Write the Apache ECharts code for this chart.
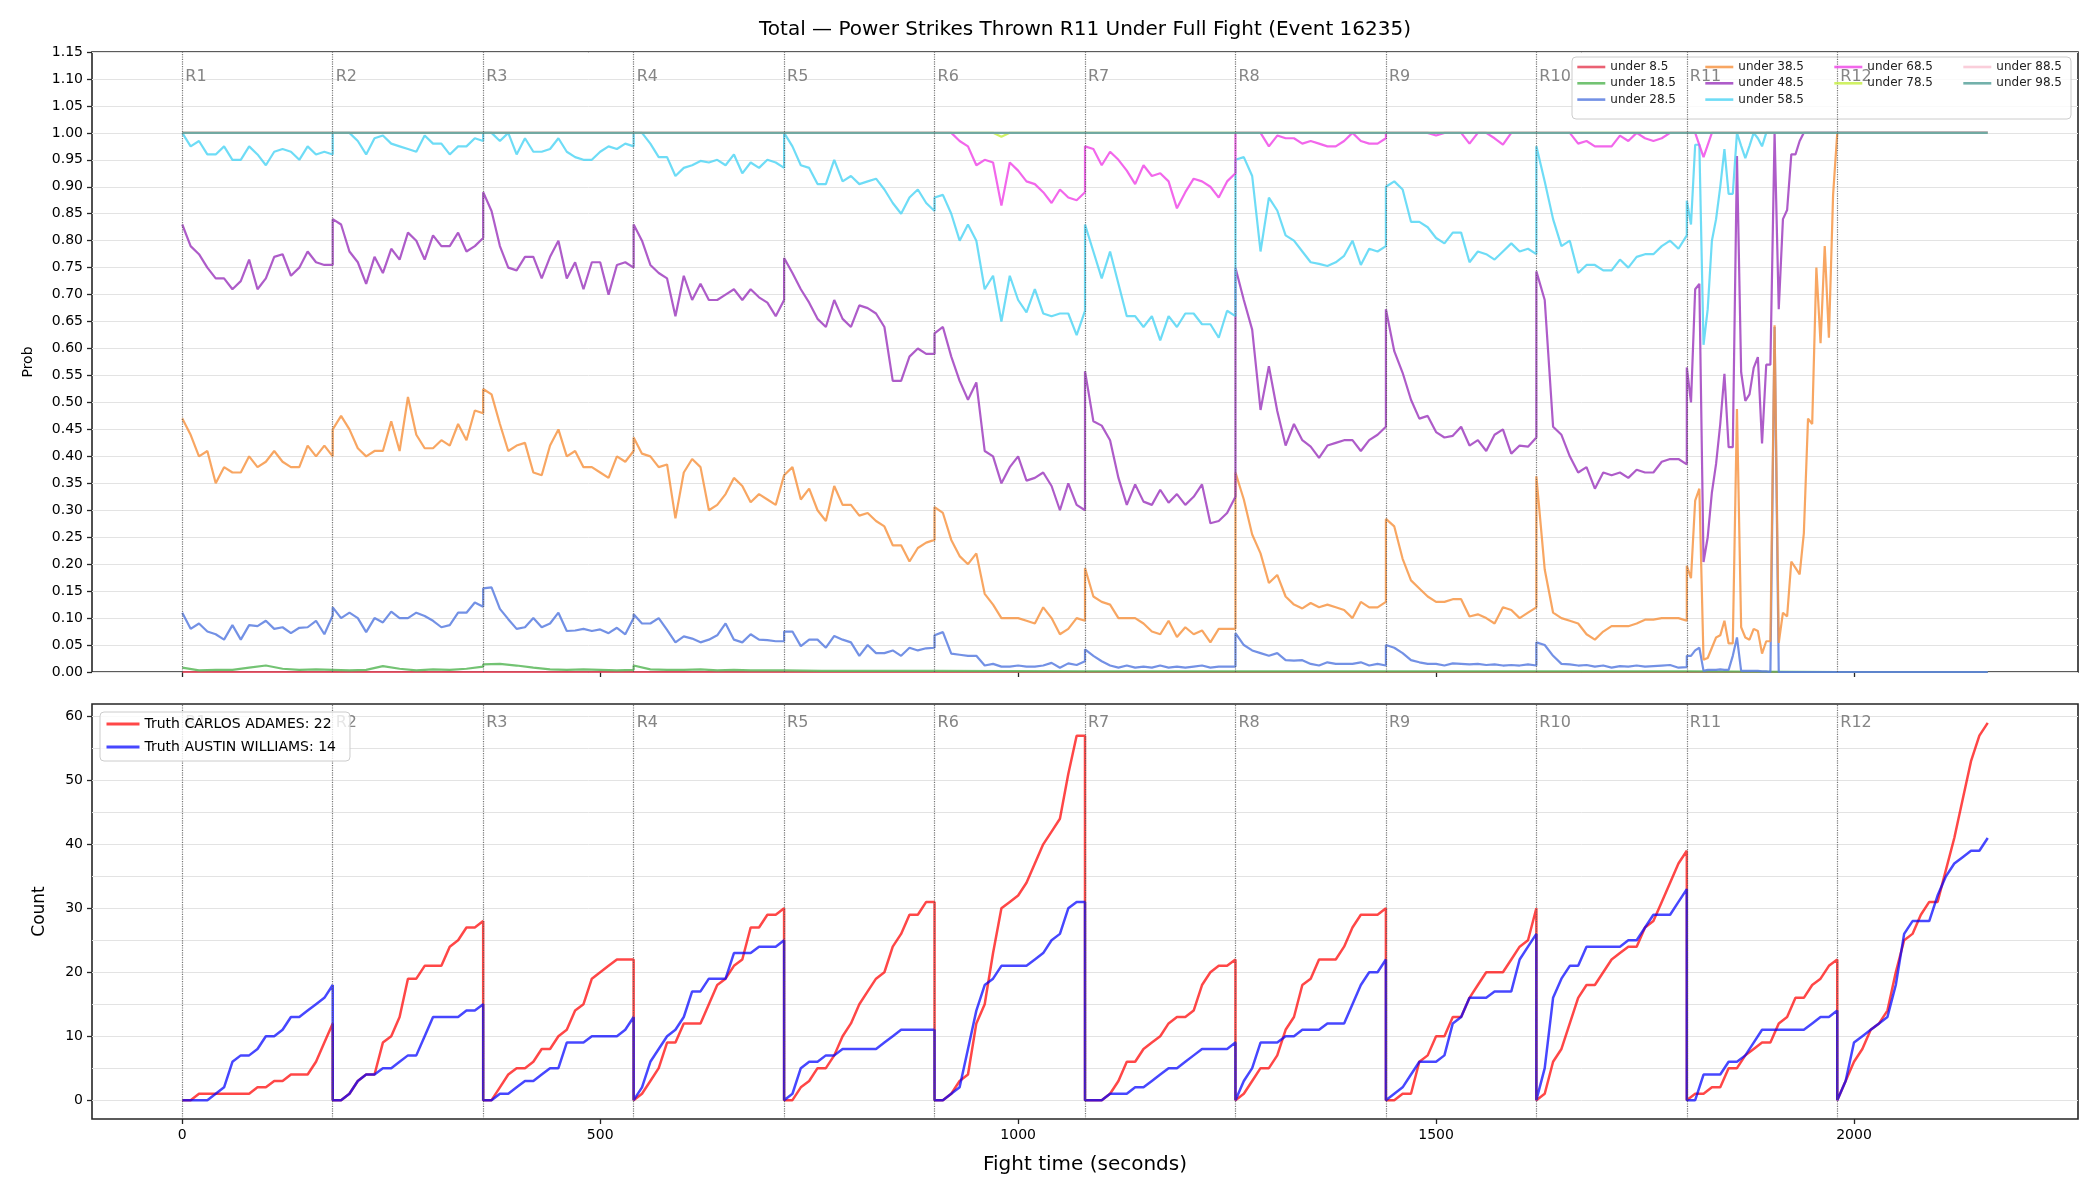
<!DOCTYPE html>
<html>
<head>
<meta charset="utf-8">
<title>Power Strikes Thrown R11 Under</title>
<script src="https://cdn.jsdelivr.net/npm/echarts@6/dist/echarts.min.js"></script>
<style>
  html, body { margin: 0; padding: 0; background: #fff; }
  #chart { width: 2100px; height: 1200px; }
</style>
</head>
<body>
<div id="chart"></div>
<script>
// rounds (seconds)
const ROUND_LEN = 180;
const roundNames = ['R1', 'R2', 'R3', 'R4', 'R5', 'R6', 'R7', 'R8', 'R9', 'R10', 'R11', 'R12'];
const roundStarts = [0, 180, 360, 540, 720, 900, 1080, 1260, 1440, 1620, 1800, 1980];
const xTicks = [0, 500, 1000, 1500, 2000];
const countTicks = [0, 10, 20, 30, 40, 50, 60];
const countMinorGrid = [5, 15, 25, 35, 45, 55];

const probNames = ['under 8.5', 'under 18.5', 'under 28.5', 'under 38.5', 'under 48.5',
  'under 58.5', 'under 68.5', 'under 78.5', 'under 88.5', 'under 98.5'];

// each series: one array per round, values evenly spread over the round
const u8 = [[0,0],[0,0],[0,0],[0,0],[0,0],[0,0],[0,0],[0,0],[0,0],[0,0],[0,0],[0,0]];
const u18 = [
  [0.008,0.003,0.004,0.004,0.008,0.012,0.006,0.004,0.005,0.004],
  [0.004,0.003,0.004,0.011,0.006,0.003,0.005,0.004,0.006,0.01],
  [0.014,0.015,0.012,0.008,0.005,0.004,0.005,0.004,0.003,0.004],
  [0.012,0.005,0.004,0.004,0.005,0.003,0.004,0.003,0.003,0.003],
  [0.003,0.002,0.002,0.002,0.002],
  [0.001,0.001],[0.001,0.001],[0.001,0.001],[0.001,0.001],[0.001,0.001],
  [0,0],[0,0]
];
const u28 = [
  [0.11,0.08,0.09,0.075,0.07,0.06,0.087,0.06,0.087,0.085,0.095,0.08,0.083,0.072,0.082,0.083,0.095,0.07,0.105],
  [0.12,0.10,0.11,0.10,0.074,0.10,0.092,0.112,0.10,0.10,0.11,0.104,0.095,0.083,0.087,0.11,0.11,0.129,0.121],
  [0.155,0.157,0.117,0.098,0.08,0.083,0.10,0.083,0.09,0.11,0.076,0.077,0.08,0.076,0.079,0.072,0.082,0.07,0.10],
  [0.107,0.09,0.09,0.10,0.078,0.055,0.066,0.062,0.055,0.06,0.068,0.09,0.06,0.055,0.07,0.06,0.059,0.057,0.057],
  [0.075,0.075,0.048,0.06,0.06,0.045,0.067,0.06,0.055,0.03,0.05,0.035,0.035,0.04,0.03,0.045,0.04,0.044,0.045],
  [0.068,0.074,0.034,0.032,0.03,0.03,0.012,0.015,0.01,0.01,0.012,0.01,0.01,0.012,0.017,0.008,0.016,0.013,0.02],
  [0.042,0.03,0.02,0.012,0.008,0.012,0.008,0.01,0.008,0.012,0.008,0.01,0.008,0.01,0.012,0.008,0.01,0.01,0.01],
  [0.072,0.05,0.04,0.035,0.03,0.035,0.022,0.021,0.022,0.015,0.012,0.018,0.015,0.015,0.015,0.018,0.012,0.015,0.012],
  [0.05,0.045,0.035,0.022,0.018,0.015,0.015,0.012,0.016,0.015,0.014,0.015,0.013,0.014,0.012,0.013,0.012,0.014,0.012],
  [0.055,0.05,0.03,0.015,0.014,0.012,0.013,0.01,0.012,0.008,0.011,0.01,0.012,0.01,0.011,0.012,0.013,0.008,0.009],
  [0.03,0.03,0.04,0.045,0.002,0.004,0.004,0.004,0.005,0.004,0.004,0.03,0.064,0.002,0.002,0.002,0.002,0.002,0.001,0.001,
   0,0.64,0,0,0,0,0,0,0,0,0,0,0,0,0,0,0],
  [0,0]
];
const u38 = [
  [0.47,0.44,0.40,0.41,0.35,0.38,0.37,0.37,0.40,0.38,0.39,0.41,0.39,0.38,0.38,0.42,0.40,0.42,0.40],
  [0.45,0.475,0.45,0.415,0.40,0.41,0.41,0.465,0.41,0.51,0.44,0.415,0.415,0.43,0.42,0.46,0.43,0.485,0.48],
  [0.525,0.515,0.46,0.41,0.42,0.425,0.37,0.365,0.42,0.45,0.40,0.41,0.38,0.38,0.37,0.36,0.40,0.39,0.41],
  [0.435,0.405,0.40,0.38,0.385,0.285,0.37,0.395,0.38,0.30,0.31,0.33,0.36,0.345,0.315,0.33,0.32,0.31,0.365],
  [0.365,0.38,0.32,0.34,0.30,0.28,0.345,0.31,0.31,0.29,0.295,0.28,0.27,0.235,0.235,0.205,0.23,0.24,0.245],
  [0.306,0.295,0.245,0.215,0.20,0.22,0.145,0.125,0.10,0.10,0.10,0.095,0.09,0.12,0.10,0.07,0.08,0.10,0.095],
  [0.193,0.14,0.13,0.125,0.10,0.10,0.10,0.09,0.075,0.07,0.095,0.065,0.083,0.07,0.077,0.055,0.08,0.08,0.08],
  [0.37,0.32,0.255,0.22,0.165,0.18,0.14,0.125,0.118,0.128,0.12,0.125,0.12,0.115,0.10,0.13,0.12,0.12,0.13],
  [0.284,0.27,0.21,0.17,0.155,0.14,0.13,0.13,0.135,0.135,0.103,0.107,0.10,0.09,0.12,0.115,0.10,0.11,0.12],
  [0.363,0.19,0.11,0.10,0.095,0.09,0.07,0.06,0.075,0.085,0.085,0.085,0.09,0.097,0.097,0.10,0.10,0.10,0.095],
  [0.197,0.174,0.318,0.34,0.023,0.026,0.045,0.064,0.068,0.095,0.053,0.053,0.488,0.083,0.064,0.06,0.08,0.076,0.034,0.057,
   0.057,0.643,0.054,0.11,0.103,0.205,0.193,0.181,0.257,0.47,0.46,0.75,0.61,0.79,0.62,0.885,1.0],
  [1,1]
];
const u48 = [
  [0.83,0.79,0.775,0.75,0.73,0.73,0.71,0.725,0.765,0.71,0.73,0.77,0.775,0.735,0.75,0.78,0.76,0.755,0.755],
  [0.84,0.83,0.78,0.76,0.72,0.77,0.74,0.785,0.765,0.815,0.80,0.765,0.81,0.79,0.79,0.815,0.78,0.79,0.805],
  [0.89,0.855,0.79,0.75,0.745,0.77,0.77,0.73,0.77,0.80,0.73,0.76,0.71,0.76,0.76,0.70,0.755,0.76,0.75],
  [0.83,0.80,0.755,0.74,0.73,0.66,0.735,0.69,0.72,0.69,0.69,0.70,0.71,0.69,0.71,0.695,0.685,0.66,0.69],
  [0.768,0.74,0.71,0.685,0.655,0.64,0.69,0.655,0.64,0.68,0.675,0.665,0.64,0.54,0.54,0.585,0.60,0.59,0.59],
  [0.628,0.64,0.585,0.54,0.505,0.537,0.41,0.40,0.35,0.38,0.40,0.355,0.36,0.37,0.345,0.30,0.35,0.31,0.30],
  [0.558,0.465,0.457,0.43,0.36,0.31,0.348,0.316,0.31,0.338,0.314,0.33,0.31,0.325,0.348,0.276,0.28,0.295,0.325],
  [0.75,0.69,0.635,0.486,0.567,0.484,0.42,0.46,0.43,0.418,0.397,0.42,0.425,0.43,0.43,0.41,0.43,0.44,0.455],
  [0.673,0.595,0.555,0.505,0.47,0.475,0.445,0.435,0.438,0.455,0.42,0.43,0.41,0.44,0.45,0.405,0.42,0.418,0.435],
  [0.743,0.69,0.455,0.44,0.40,0.37,0.38,0.34,0.37,0.365,0.37,0.36,0.375,0.37,0.37,0.39,0.395,0.395,0.385],
  [0.565,0.50,0.71,0.72,0.204,0.25,0.333,0.386,0.46,0.553,0.417,0.417,0.957,0.556,0.503,0.515,0.564,0.584,0.424,0.57,
   0.57,1.0,0.673,0.84,0.857,0.96,0.96,0.985,1,1,1,1,1,1,1,1,1],
  [1,1]
];
const u58 = [
  [1.0,0.975,0.985,0.96,0.96,0.975,0.95,0.95,0.975,0.96,0.94,0.965,0.97,0.965,0.95,0.975,0.96,0.965,0.96],
  [1.0,1.0,1.0,0.985,0.96,0.99,0.995,0.98,0.975,0.97,0.965,0.995,0.98,0.98,0.96,0.975,0.975,0.99,0.985],
  [1.0,1.0,0.985,1.0,0.96,0.99,0.965,0.965,0.97,0.99,0.965,0.955,0.95,0.95,0.965,0.975,0.97,0.98,0.975],
  [1.0,1.0,0.98,0.955,0.955,0.92,0.935,0.94,0.948,0.945,0.95,0.94,0.96,0.925,0.945,0.935,0.95,0.945,0.935],
  [1.0,0.975,0.94,0.935,0.905,0.905,0.95,0.91,0.92,0.905,0.91,0.915,0.895,0.87,0.85,0.88,0.895,0.87,0.855],
  [0.88,0.885,0.85,0.80,0.83,0.80,0.71,0.735,0.65,0.735,0.69,0.667,0.71,0.665,0.66,0.665,0.665,0.625,0.67],
  [0.83,0.78,0.73,0.78,0.72,0.66,0.66,0.64,0.66,0.615,0.66,0.64,0.665,0.665,0.645,0.645,0.62,0.67,0.66],
  [0.95,0.955,0.92,0.78,0.88,0.856,0.81,0.80,0.78,0.76,0.757,0.753,0.76,0.772,0.80,0.755,0.785,0.78,0.79],
  [0.90,0.91,0.895,0.835,0.835,0.825,0.805,0.795,0.815,0.815,0.76,0.78,0.775,0.765,0.78,0.795,0.78,0.785,0.775],
  [0.975,0.91,0.84,0.79,0.80,0.74,0.755,0.755,0.745,0.745,0.765,0.75,0.77,0.775,0.775,0.79,0.80,0.785,0.81],
  [0.874,0.83,0.978,0.978,0.607,0.673,0.80,0.84,0.90,0.97,0.887,0.887,1.0,0.976,0.953,0.976,1.0,0.99,0.975,1.0,
   1,1,1,1,1,1,1,1,1,1,1,1,1,1,1,1,1],
  [1,1]
];
const u68 = [
  [1,1],[1,1],[1,1],[1,1],[1,1],
  [1.0,1.0,1.0,0.985,0.975,0.94,0.95,0.945,0.865,0.945,0.93,0.91,0.905,0.89,0.87,0.895,0.88,0.875,0.89],
  [0.975,0.97,0.94,0.965,0.95,0.93,0.905,0.94,0.92,0.925,0.91,0.86,0.89,0.915,0.91,0.90,0.88,0.91,0.925],
  [1.0,1.0,1.0,1.0,0.975,0.995,0.99,0.99,0.98,0.985,0.98,0.975,0.975,0.985,1.0,0.985,0.98,0.98,0.99],
  [1,1,1,1,1,1,0.995,1,1,1,0.98,1,1,0.99,0.978,1,1,1,1],
  [1,1,1,1,1,0.98,0.985,0.975,0.975,0.975,0.995,0.985,1,0.99,0.985,0.99,1,1,1],
  [1,1,0.955,1,1,1,1,1,1,1,1,1,1,1,1,1,1,1,1],
  [1,1]
];
const u78 = [
  [1,1],[1,1],[1,1],[1,1],[1,1],
  [1,1,1,1,1,1,1,1,0.993,1,1,1,1,1,1,1,1,1,1],
  [1,1],[1,1],[1,1],[1,1],[1,1],[1,1]
];
const u88 = [[1,1],[1,1],[1,1],[1,1],[1,1],[1,1],[1,1],[1,1],[1,1],[1,1],[1,1],[1,1]];
const u98 = [[1,1],[1,1],[1,1],[1,1],[1,1],[1,1],[1,1],[1,1],[1,1],[1,1],[1,1],[1,1]];

// cumulative counts, every 10 s within each round
const redName = 'Truth CARLOS ADAMES: 22';
const blueName = 'Truth AUSTIN WILLIAMS: 14';
const redCounts = [
  [0,0,1,1,1,1,1,1,1,2,2,3,3,4,4,4,6,9,12],
  [0,0,1,3,4,4,9,10,13,19,19,21,21,21,24,25,27,27,28],
  [0,0,2,4,5,5,6,8,8,10,11,14,15,19,20,21,22,22,22],
  [0,1,3,5,9,9,12,12,12,15,18,19,21,22,27,27,29,29,30],
  [0,0,2,3,5,5,7,10,12,15,17,19,20,24,26,29,29,31,31],
  [0,0,1,3,4,12,15,23,30,31,32,34,37,40,42,44,51,57,57],
  [0,0,0,1,3,6,6,8,9,10,12,13,13,14,18,20,21,21,22],
  [0,1,3,5,5,7,11,13,18,19,22,22,22,24,27,29,29,29,30],
  [0,0,1,1,6,7,10,10,13,13,16,18,20,20,20,22,24,25,30],
  [0,1,6,8,12,16,18,18,20,22,23,24,24,27,28,31,34,37,39],
  [0,1,1,2,2,5,5,7,8,9,9,12,13,16,16,18,19,21,22],
  [0,3,6,8,11,12,14,20,25,26,29,31,31,36,41,47,53,57,59]
];
const blueCounts = [
  [0,0,0,0,1,2,6,7,7,8,10,10,11,13,13,14,15,16,18],
  [0,0,1,3,4,4,5,5,6,7,7,10,13,13,13,13,14,14,15],
  [0,0,1,1,2,3,3,4,5,5,9,9,9,10,10,10,10,11,13],
  [0,2,6,8,10,11,13,17,17,19,19,19,23,23,23,24,24,24,25],
  [0,1,5,6,6,7,7,8,8,8,8,8,9,10,11,11,11,11,11],
  [0,0,1,2,8,14,18,19,21,21,21,21,22,23,25,26,30,31,31],
  [0,0,0,1,1,1,2,2,3,4,5,5,6,7,8,8,8,8,9],
  [0,3,5,9,9,9,10,10,11,11,11,12,12,12,15,18,20,20,22],
  [0,1,2,4,6,6,6,7,12,13,16,16,16,17,17,17,22,24,26],
  [0,5,16,19,21,21,24,24,24,24,24,25,25,27,29,29,29,31,33],
  [0,0,4,4,4,6,6,7,9,11,11,11,11,11,11,12,13,13,14],
  [0,3,9,10,11,12,13,18,26,28,28,28,32,35,37,38,39,39,41]
];

const probRounds = [u8, u18, u28, u38, u48, u58, u68, u78, u88, u98];
const probColors = ['#e6455a', '#5ab85a', '#5a7ee0', '#f79646', '#a040c0',
  '#55d6f5', '#f04ce8', '#c8ef4a', '#f9c6d3', '#5aa39c'];

const FONT = 'DejaVu Sans';

// turn per-round samples into [time, value] points
function buildLine(rounds) {
  const pts = [];
  rounds.forEach((vals, r) => {
    const step = ROUND_LEN / (vals.length - 1);
    vals.forEach((v, i) => pts.push([roundStarts[r] + i * step, v]));
  });
  return pts;
}

function xAxisFor(idx, withLabels) {
  return {
    type: 'value', gridIndex: idx, min: -108, max: 2268,
    axisLine: { show: false, onZero: false },
    axisTick: { show: true, customValues: xTicks, length: 5, lineStyle: { color: '#262626', width: 1.3 } },
    axisLabel: {
      show: withLabels, customValues: xTicks, fontSize: 14, color: '#000', margin: 9, fontFamily: FONT,
      formatter: v => String(v)
    },
    splitLine: { show: false }
  };
}

const chart = echarts.init(document.getElementById('chart'));

const series = [];
probNames.forEach((name, i) => {
  series.push({
    name: name, type: 'line', xAxisIndex: 0, yAxisIndex: 0,
    data: buildLine(probRounds[i]),
    symbol: 'none', showSymbol: false,
    lineStyle: { width: 2.2, color: probColors[i], opacity: 0.85 },
    itemStyle: { color: probColors[i] },
    z: 2
  });
});

const roundMarks = {
  silent: true, symbol: ['none', 'none'], z: 3,
  label: { show: false },
  lineStyle: { type: 'dotted', color: '#555', width: 1.2, opacity: 0.8 },
  data: roundStarts.map(t => ({ xAxis: t }))
};
const roundLabel = {
  show: true, position: 'right', distance: 3,
  formatter: p => roundNames[p.dataIndex],
  color: '#666', fontSize: 16, fontFamily: FONT
};

series.push({
  name: 'roundsTop', type: 'scatter', xAxisIndex: 0, yAxisIndex: 0,
  data: roundStarts.map(t => [t, 1.103]),
  symbolSize: 0, itemStyle: { color: 'transparent' },
  label: roundLabel, markLine: roundMarks, z: 3, silent: true
});

series.push({
  name: redName, type: 'line', xAxisIndex: 1, yAxisIndex: 1,
  data: buildLine(redCounts), symbol: 'none', showSymbol: false,
  lineStyle: { width: 2.5, color: '#ff0000', opacity: 0.72 },
  itemStyle: { color: '#ff0000' }, z: 2,
  markLine: {
    silent: true, symbol: ['none', 'none'], z: 1, label: { show: false },
    lineStyle: { type: 'solid', color: '#e3e3e3', width: 1, opacity: 1 },
    data: countMinorGrid.map(v => ({ yAxis: v }))
  }
});
series.push({
  name: blueName, type: 'line', xAxisIndex: 1, yAxisIndex: 1,
  data: buildLine(blueCounts), symbol: 'none', showSymbol: false,
  lineStyle: { width: 2.5, color: '#0000ff', opacity: 0.72 },
  itemStyle: { color: '#0000ff' }, z: 2
});
series.push({
  name: 'roundsBottom', type: 'scatter', xAxisIndex: 1, yAxisIndex: 1,
  data: roundStarts.map(t => [t, 59]),
  symbolSize: 0, itemStyle: { color: 'transparent' },
  label: roundLabel, markLine: roundMarks, z: 3, silent: true
});

// legend icons: keep the line, hide the marker circle
const legendMarker = { opacity: 0 };

const legendCols = [[0, 3, 1576], [3, 6, 1704], [6, 8, 1833], [8, 10, 1962]];
const legends = legendCols.map(c => ({
  data: probNames.slice(c[0], c[1]),
  orient: 'vertical', left: c[2], top: 61, padding: 0,
  itemWidth: 28, itemHeight: 14, itemGap: 4.3, selectedMode: false,
  itemStyle: legendMarker, lineStyle: { width: 2.6 },
  textStyle: { fontSize: 12, color: '#222', fontFamily: FONT }
}));
legends.push({
  data: [redName, blueName],
  orient: 'vertical', left: 100, top: 712, padding: [5, 14, 7, 5],
  itemWidth: 33, itemHeight: 14, itemGap: 9, selectedMode: false,
  itemStyle: legendMarker, lineStyle: { width: 3 },
  backgroundColor: 'rgba(255,255,255,0.8)', borderColor: '#cccccc', borderWidth: 1, borderRadius: 4,
  textStyle: { fontSize: 14, color: '#000', fontFamily: FONT }
});

const option = {
  animation: false,
  textStyle: { fontFamily: FONT },
  title: {
    text: 'Total — Power Strikes Thrown R11 Under Full Fight (Event 16235)',
    left: 1085, top: 20, textAlign: 'center', padding: 0,
    textStyle: { fontSize: 20, fontWeight: 'normal', color: '#000', fontFamily: FONT }
  },
  grid: [
    { left: 92, right: 22, top: 52, height: 620, show: true, borderColor: '#262626', borderWidth: 1.6, backgroundColor: 'transparent' },
    { left: 92, right: 22, top: 704, height: 415, show: true, borderColor: '#262626', borderWidth: 1.6, backgroundColor: 'transparent' }
  ],
  xAxis: [
    xAxisFor(0, false),
    Object.assign(xAxisFor(1, true), {
      name: 'Fight time (seconds)', nameLocation: 'middle', nameGap: 36,
      nameTextStyle: { fontSize: 20, color: '#000', fontFamily: FONT }
    })
  ],
  yAxis: [
    {
      type: 'value', gridIndex: 0, min: 0, max: 1.15, interval: 0.05,
      name: 'Prob', nameLocation: 'middle', nameGap: 57,
      nameTextStyle: { fontSize: 14, color: '#000', fontFamily: FONT },
      axisLine: { show: false, onZero: false },
      axisTick: { show: true, length: 5, lineStyle: { color: '#262626', width: 1.3 } },
      axisLabel: { fontSize: 14, color: '#000', margin: 9, formatter: v => v.toFixed(2), fontFamily: FONT },
      splitLine: { show: true, lineStyle: { color: '#e3e3e3', width: 1 } }
    },
    {
      type: 'value', gridIndex: 1, min: -2.95, max: 61.95,
      name: 'Count', nameLocation: 'middle', nameGap: 44,
      nameTextStyle: { fontSize: 17, color: '#000', fontFamily: FONT },
      axisLine: { show: false, onZero: false },
      axisTick: { show: true, customValues: countTicks, length: 5, lineStyle: { color: '#262626', width: 1.3 } },
      axisLabel: { customValues: countTicks, fontSize: 14, color: '#000', margin: 9, fontFamily: FONT },
      splitLine: { show: true, lineStyle: { color: '#e3e3e3', width: 1 } }
    }
  ],
  legend: legends,
  graphic: [{
    type: 'rect', z: 3,
    shape: { x: 1572, y: 57, width: 499, height: 62, r: 4 },
    style: { fill: 'rgba(255,255,255,0.8)', stroke: '#cccccc', lineWidth: 1 }
  }],
  series: series
};

chart.setOption(option);
</script>
</body>
</html>
